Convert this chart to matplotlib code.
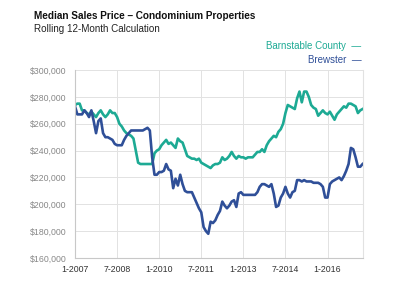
import numpy as np
import matplotlib
matplotlib.use("Agg")
import matplotlib.pyplot as plt

# monthly rolling 12-month median, Jan 2007 .. Apr 2017 (thousands of $)
barnstable = [
    274, 275, 275, 270, 270, 268, 267, 269, 267, 265, 268, 270, 267, 265, 267, 270,
    268, 268, 265, 260, 258, 255, 253, 252, 251, 249, 240, 231, 230, 230, 230, 230,
    230, 230, 238, 240, 241, 244, 246, 248, 245, 246, 244, 242, 249, 247, 246, 241,
    236, 235, 234, 234, 233, 234, 231, 230, 229, 228, 227, 229, 230, 230, 231, 235,
    233, 234, 236, 239, 236, 234, 236, 235, 235, 234, 235, 235, 235, 237, 239, 239,
    241, 239, 244, 247, 249, 251, 250, 254, 256, 260, 268, 274, 273, 272, 271, 279,
    284, 276, 284, 284, 280, 274, 272, 271, 266, 268, 270, 268, 267, 269, 266, 263,
    267, 269, 271, 273, 272, 275, 275, 274, 273, 268, 270, 271,
]
brewster = [
    273, 267, 267, 267, 270, 268, 265, 270, 262, 253, 262, 264, 253, 250, 250, 249,
    248, 245, 244, 244, 244, 248, 251, 253, 255, 255, 255, 255, 255, 255, 256, 257,
    255, 235, 222, 222, 224, 224, 225, 230, 226, 225, 212, 219, 214, 222, 215, 210,
    209, 209, 209, 205, 201, 197, 194, 183, 180, 178, 187, 186, 188, 192, 195, 202,
    199, 197, 199, 202, 203, 198, 208, 209, 207, 207, 207, 207, 207, 207, 209, 213,
    215, 215, 214, 213, 215, 208, 198, 199, 205, 208, 213, 208, 205, 209, 210, 218,
    218, 217, 218, 217, 217, 217, 216, 216, 216, 215, 213, 205, 205, 215, 217, 218,
    219, 220, 218, 221, 225, 230, 242, 241, 235, 228, 228, 230,
]
tick_months = [0, 18, 36, 54, 72, 90, 108]
tick_labels = ["1-2007", "7-2008", "1-2010", "7-2011", "1-2013", "7-2014", "1-2016"]
y_ticks = [160000, 180000, 200000, 220000, 240000, 260000, 280000, 300000]

teal = "#1daa94"
navy = "#2f4f98"
font = ["Liberation Sans", "DejaVu Sans"]

fig = plt.figure(figsize=(4, 2.85), dpi=100)
ax = fig.add_axes([0.1875, 0.095, 0.719, 0.659])

months = np.arange(len(barnstable))
ax.plot(months, np.array(barnstable) * 1000, color=teal, lw=1.9, solid_joinstyle="round")
ax.plot(np.arange(len(brewster)), np.array(brewster) * 1000, color=navy, lw=1.9,
        solid_joinstyle="round")

ax.set_xlim(0, len(barnstable) - 1)
ax.set_ylim(160000, 300000)
ax.set_yticks(y_ticks)
ax.set_yticklabels(["${:,}".format(v) for v in y_ticks], fontsize=6.3, color="#888888",
                   family=font)
ax.set_xticks(tick_months)
ax.set_xticklabels(tick_labels, fontsize=6.3, color="#333333", family=font)
ax.tick_params(axis="y", length=0, pad=6)
ax.tick_params(axis="x", length=0, pad=5)
ax.grid(True, color="#e2e2e2", lw=0.7)
ax.set_axisbelow(True)
ax.spines["top"].set_visible(False)
ax.spines["right"].set_color("#e2e2e2")
ax.spines["left"].set_color("#c8c8c8")
ax.spines["bottom"].set_color("#c8c8c8")

fig.text(0.085, 0.945, "Median Sales Price \u2013 Condominium Properties", fontsize=7.2,
         fontweight="bold", color="#111111", family=font, va="center")
fig.text(0.085, 0.897, "Rolling 12-Month Calculation", fontsize=7.1, color="#222222",
         family=font, va="center")
fig.text(0.903, 0.838, "Barnstable County  \u2014", fontsize=7, color=teal, ha="right",
         va="center", family=font)
fig.text(0.903, 0.789, "Brewster  \u2014", fontsize=7, color=navy, ha="right",
         va="center", family=font)

fig.savefig("out.png", dpi=100)
